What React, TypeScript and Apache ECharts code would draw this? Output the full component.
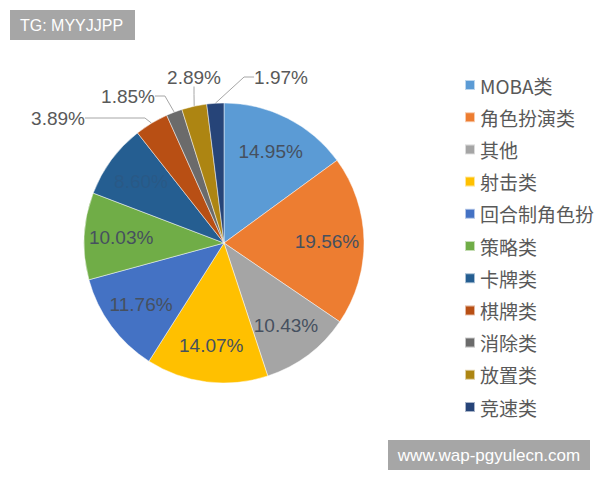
import React, { useEffect, useRef } from 'react';
import * as echarts from 'echarts';

const categories = ['MOBA类', '角色扮演类', '其他', '射击类', '回合制角色扮', '策略类', '卡牌类', '棋牌类', '消除类', '放置类', '竞速类'];
const shares = [14.95, 19.56, 10.43, 14.07, 11.76, 10.03, 8.6, 3.89, 1.85, 2.89, 1.97];
const sliceColors = ['#5b9bd5', '#ed7d31', '#a5a5a5', '#ffc000', '#4472c4', '#70ad47', '#255e91', '#b84f14', '#6b6b6b', '#ad8512', '#264478'];
const insideIdx = [0, 1, 2, 3, 4, 5, 6];
const outsideIdx = [7, 8, 9, 10];
const outsidePos: Record<number, [number, number]> = { 7: [58, 118], 8: [128, 96], 9: [194, 77], 10: [281, 77] };
const guideLen2: Record<number, number> = { 7: 60, 8: 10, 9: 8, 10: 10 };

const fmt = (v: number) => v.toFixed(2) + '%';

export default function App() {
  const ref = useRef<HTMLDivElement>(null);
  useEffect(() => {
    document.body.style.margin = '0';
    if (!ref.current) return;
    const chart = echarts.init(ref.current, undefined, { renderer: 'svg' });
    const center = [224, 243];
    const mainData = categories.map((name, i) => ({
      name,
      value: shares[i],
      itemStyle: { color: sliceColors[i] },
      label: outsideIdx.includes(i)
        ? { show: true, position: 'outside', formatter: fmt(shares[i]) }
        : { show: false },
      labelLine: outsideIdx.includes(i)
        ? { show: true, length: 10, length2: guideLen2[i], lineStyle: { color: '#a6a6a6', width: 1 } }
        : { show: false },
    }));
    const labelData = categories.map((name, i) => ({
      name,
      value: shares[i],
      label: insideIdx.includes(i)
        ? {
            show: true,
            formatter: fmt(shares[i]),
            color: i === 6 ? 'rgba(45,85,125,0.55)' : '#46505f',
          }
        : { show: false },
    }));
    chart.setOption({
      animation: false,
      legend: {
        orient: 'vertical',
        left: 459,
        top: 70,
        itemWidth: 10,
        itemHeight: 10,
        itemGap: 12.2,
        icon: 'rect',
        data: categories,
        textStyle: { fontSize: 19, lineHeight: 20, color: '#595959', fontFamily: 'Noto Sans CJK SC' },
      },
      graphic: [
        { type: 'rect', shape: { x: 10, y: 10, width: 125, height: 30 }, style: { fill: '#a6a6a6' } },
        { type: 'text', x: 20, y: 25, style: { text: 'TG: MYYJJPP', fill: '#ffffff', fontSize: 16, fontFamily: 'Liberation Sans', verticalAlign: 'middle' } },
        { type: 'rect', shape: { x: 388, y: 440, width: 202, height: 30 }, style: { fill: '#a6a6a6' } },
        { type: 'text', x: 489, y: 455, style: { text: 'www.wap-pgyulecn.com', fill: '#ffffff', fontSize: 17, fontFamily: 'Liberation Sans', align: 'center', verticalAlign: 'middle' } },
      ],
      series: [
        {
          type: 'pie',
          center,
          radius: [0, 140],
          startAngle: 90,
          clockwise: true,
          avoidLabelOverlap: false,
          minShowLabelAngle: 0,
          itemStyle: { borderColor: 'rgba(255,255,255,0.6)', borderWidth: 0.8 },
          label: { fontSize: 19, color: '#595959', fontFamily: 'Liberation Sans' },
          emphasis: { disabled: true },
          labelLayout: (params: any) => {
            const p = outsidePos[params.dataIndex];
            if (!p) return {};
            return { x: p[0], y: p[1], align: 'center', verticalAlign: 'middle' };
          },
          data: mainData,
        },
        {
          type: 'pie',
          center,
          radius: [60, 140],
          startAngle: 90,
          clockwise: true,
          silent: true,
          avoidLabelOverlap: false,
          itemStyle: { color: 'rgba(0,0,0,0)', borderWidth: 0 },
          label: { position: 'inside', fontSize: 19, fontFamily: 'Liberation Sans' },
          labelLine: { show: false },
          emphasis: { disabled: true },
          data: labelData,
        },
      ],
    });
    return () => chart.dispose();
  }, []);
  return <div ref={ref} style={{ width: 600, height: 480 }} />;
}
